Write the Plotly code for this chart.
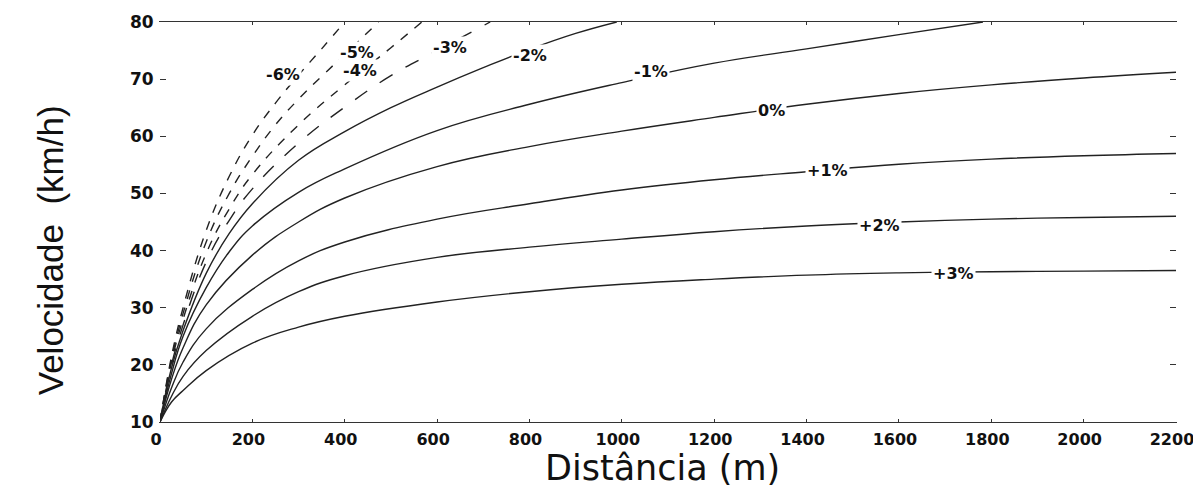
import plotly.graph_objects as go

# Grades (series names)
grades = ["-6%", "-5%", "-4%", "-3%", "-2%", "-1%", "0%", "+1%", "+2%", "+3%"]

# Distance (m) and speed (km/h), per grade
d_m6 = [0, 25, 50, 100, 150, 200, 250, 300, 350, 400]
v_m6 = [10, 21.5, 30, 43.5, 53, 60.2, 65.8, 70.7, 75.3, 80]

d_m5 = [0, 25, 50, 100, 150, 200, 250, 300, 350, 400, 450, 473]
v_m5 = [10, 21, 29, 41.5, 50, 56.5, 62, 66.5, 70.5, 74.3, 78.2, 80]

d_m4 = [0, 25, 50, 100, 150, 200, 300, 400, 500, 567]
v_m4 = [10, 20.5, 28, 39.5, 47.3, 53.3, 62, 69, 75.5, 80]

d_m3 = [0, 25, 50, 100, 150, 200, 300, 400, 500, 600, 715]
v_m3 = [10, 20, 27, 38, 45.3, 50.8, 58.8, 65.1, 70.6, 75, 80]

d_m2 = [0, 25, 50, 100, 150, 200, 300, 400, 500, 600, 700, 800, 900, 989]
v_m2 = [10, 19.5, 26, 36, 43, 48.2, 55.8, 60.8, 65, 68.6, 72, 75.2, 78, 80]

d_m1 = [0, 25, 50, 100, 150, 200, 300, 400, 600, 800, 1000, 1200, 1400, 1600, 1782]
v_m1 = [10, 18.5, 25, 33.5, 39.8, 44.3, 50.2, 54.3, 61, 65.6, 69.4, 72.8, 75.3, 77.8, 80]

d_0 = [0, 25, 50, 100, 200, 300, 400, 600, 800, 1000, 1200, 1400, 1600, 1800, 2000, 2200]
v_0 = [10, 17.5, 23, 30.5, 39.2, 45, 49.2, 54.7, 58.2, 60.9, 63.3, 65.6, 67.5, 69, 70.2, 71.2]

d_p1 = [0, 25, 50, 100, 200, 300, 400, 600, 800, 1000, 1200, 1400, 1600, 1800, 2000, 2200]
v_p1 = [10, 16, 20.5, 26.3, 33.2, 38.2, 41.5, 45.5, 48.2, 50.6, 52.4, 53.8, 55.1, 56, 56.6, 57]

d_p2 = [0, 25, 50, 100, 200, 300, 400, 600, 800, 1000, 1200, 1400, 1600, 1800, 2000, 2200]
v_p2 = [10, 14.5, 18, 22.5, 28.5, 32.8, 35.6, 38.8, 40.6, 42, 43.3, 44.3, 45, 45.5, 45.8, 46]

d_p3 = [0, 25, 50, 100, 200, 300, 400, 600, 800, 1000, 1200, 1400, 1600, 1800, 2000, 2200]
v_p3 = [10, 13.5, 15.5, 19, 23.8, 26.6, 28.5, 31, 32.8, 34.1, 35, 35.7, 36.1, 36.3, 36.4, 36.5]

# Label positions (m, km/h)
label_x = [266, 426, 433, 628, 801, 1063, 1325, 1446, 1557, 1719]
label_y = [70.9, 74.7, 71.5, 75.6, 74.2, 71.3, 64.5, 54.0, 44.4, 36.0]

# Axis ticks
x_ticks = [0, 200, 400, 600, 800, 1000, 1200, 1400, 1600, 1800, 2000, 2200]
y_ticks = [10, 20, 30, 40, 50, 60, 70, 80]

x_title = "Distância (m)"
y_title = "Velocidade  (km/h)"

series = [
    (d_m6, v_m6, "dash"), (d_m5, v_m5, "dash"), (d_m4, v_m4, "dash"),
    (d_m3, v_m3, "longdash"), (d_m2, v_m2, "solid"), (d_m1, v_m1, "solid"),
    (d_0, v_0, "solid"), (d_p1, v_p1, "solid"), (d_p2, v_p2, "solid"),
    (d_p3, v_p3, "solid"),
]

BOLD = "DejaVu Sans, Arial, sans-serif"

fig = go.Figure()
for name, (dx, vy, dash) in zip(grades, series):
    fig.add_trace(go.Scatter(
        x=dx, y=vy, mode="lines", name=name,
        line=dict(color="#222", width=1.4, dash=dash, shape="spline", smoothing=1.2),
        showlegend=False, hoverinfo="skip",
    ))

for name, lx, ly in zip(grades, label_x, label_y):
    fig.add_annotation(
        x=lx, y=ly, text=name, showarrow=False,
        font=dict(family=BOLD, size=16, color="#111", weight="bold"),
        bgcolor="white", borderpad=1,
    )

# Axis titles placed as annotations (paper coords)
fig.add_annotation(
    xref="paper", yref="paper", x=-0.108, y=0.43, text=y_title, textangle=-90,
    showarrow=False, xanchor="center", yanchor="middle",
    font=dict(family="Liberation Sans, Arial, sans-serif", size=35, color="#111"),
)
fig.add_annotation(
    xref="paper", yref="paper", x=0.495, y=-0.115, text=x_title,
    showarrow=False, xanchor="center", yanchor="middle",
    font=dict(family="DejaVu Sans, Arial, sans-serif", size=35, color="#111"),
)

# The page body adds an 8 px offset; size the figure to fill the window exactly
fig.update_layout(
    width=1193, height=483,
    margin=dict(l=152, r=25, t=14, b=69),
    paper_bgcolor="white", plot_bgcolor="white",
    font=dict(family=BOLD, color="#111"),
)
fig.update_xaxes(
    range=[0, 2200], tickvals=x_ticks, ticktext=[str(t) for t in x_ticks],
    showgrid=False, zeroline=False, automargin=False,
    showline=True, linecolor="#333", linewidth=1.2, mirror="ticks",
    ticks="inside", ticklen=3, tickcolor="#333",
    ticklabelshift=-4, ticklabelstandoff=3,
    tickfont=dict(family=BOLD, size=16, weight="bold", color="#111"),
)
fig.update_yaxes(
    range=[10, 80], tickvals=y_ticks, ticktext=[str(t) for t in y_ticks],
    showgrid=False, zeroline=False, automargin=False,
    showline=True, linecolor="rgba(255,255,255,0)", linewidth=1, mirror="ticks",
    ticks="inside", ticklen=6, tickcolor="#333", ticklabelstandoff=2,
    tickfont=dict(family=BOLD, size=17, weight="bold", color="#111"),
)

fig.write_html("out.html")
